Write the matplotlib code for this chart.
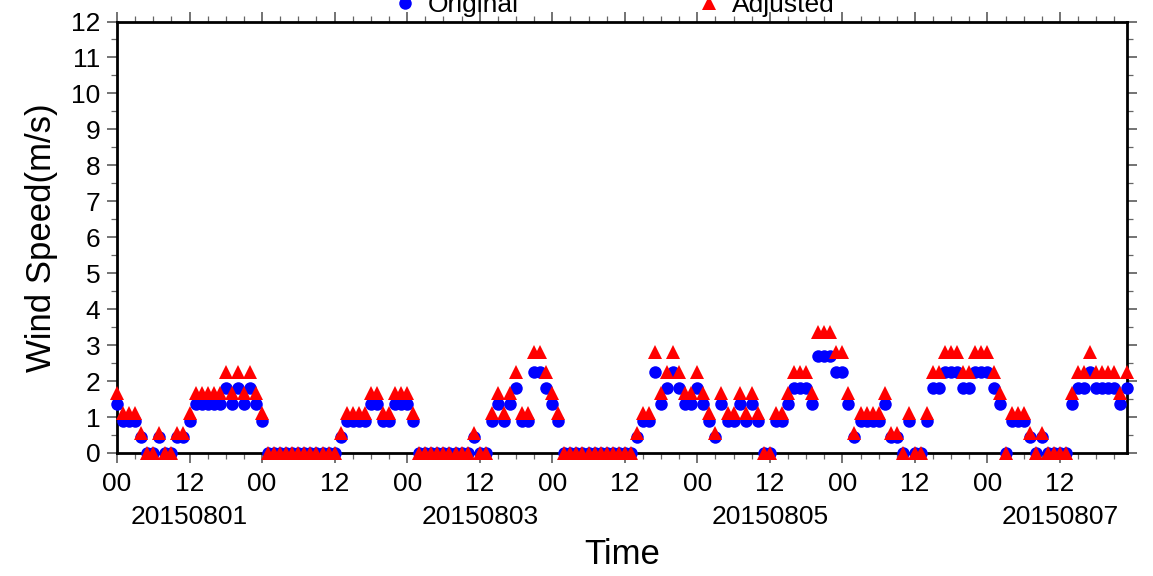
import numpy as np
import matplotlib.pyplot as plt
from matplotlib.lines import Line2D
from matplotlib.ticker import MultipleLocator, FixedLocator

plt.rcParams['font.family'] = ['Liberation Sans', 'DejaVu Sans']

# hourly wind speed (m/s), 2015-08-01 00h .. 2015-08-07 23h, one row per day
original = [
    1.35, 0.9, 0.9, 0.9, 0.45, 0, 0, 0.45, 0, 0, 0.45, 0.45,
    0.9, 1.35, 1.35, 1.35, 1.35, 1.35, 1.8, 1.35, 1.8, 1.35, 1.8, 1.35,
    0.9, 0, 0, 0, 0, 0, 0, 0, 0, 0, 0, 0,
    0, 0.45, 0.9, 0.9, 0.9, 0.9, 1.35, 1.35, 0.9, 0.9, 1.35, 1.35,
    1.35, 0.9, 0, 0, 0, 0, 0, 0, 0, 0, 0, 0.45,
    0, 0, 0.9, 1.35, 0.9, 1.35, 1.8, 0.9, 0.9, 2.25, 2.25, 1.8,
    1.35, 0.9, 0, 0, 0, 0, 0, 0, 0, 0, 0, 0,
    0, 0, 0.45, 0.9, 0.9, 2.25, 1.35, 1.8, 2.25, 1.8, 1.35, 1.35,
    1.8, 1.35, 0.9, 0.45, 1.35, 0.9, 0.9, 1.35, 0.9, 1.35, 0.9, 0,
    0, 0.9, 0.9, 1.35, 1.8, 1.8, 1.8, 1.35, 2.7, 2.7, 2.7, 2.25,
    2.25, 1.35, 0.45, 0.9, 0.9, 0.9, 0.9, 1.35, 0.45, 0.45, 0, 0.9,
    0, 0, 0.9, 1.8, 1.8, 2.25, 2.25, 2.25, 1.8, 1.8, 2.25, 2.25,
    2.25, 1.8, 1.35, 0, 0.9, 0.9, 0.9, 0.45, 0, 0.45, 0, 0,
    0, 0, 1.35, 1.8, 1.8, 2.25, 1.8, 1.8, 1.8, 1.8, 1.35, 1.8,
]

adjusted = [
    1.68, 1.12, 1.12, 1.12, 0.56, 0, 0, 0.56, 0, 0, 0.56, 0.56,
    1.12, 1.68, 1.68, 1.68, 1.68, 1.68, 2.24, 1.68, 2.24, 1.68, 2.24, 1.68,
    1.12, 0, 0, 0, 0, 0, 0, 0, 0, 0, 0, 0,
    0, 0.56, 1.12, 1.12, 1.12, 1.12, 1.68, 1.68, 1.12, 1.12, 1.68, 1.68,
    1.68, 1.12, 0, 0, 0, 0, 0, 0, 0, 0, 0, 0.56,
    0, 0, 1.12, 1.68, 1.12, 1.68, 2.24, 1.12, 1.12, 2.8, 2.8, 2.24,
    1.68, 1.12, 0, 0, 0, 0, 0, 0, 0, 0, 0, 0,
    0, 0, 0.56, 1.12, 1.12, 2.8, 1.68, 2.24, 2.8, 2.24, 1.68, 1.68,
    2.24, 1.68, 1.12, 0.56, 1.68, 1.12, 1.12, 1.68, 1.12, 1.68, 1.12, 0,
    0, 1.12, 1.12, 1.68, 2.24, 2.24, 2.24, 1.68, 3.36, 3.36, 3.36, 2.8,
    2.8, 1.68, 0.56, 1.12, 1.12, 1.12, 1.12, 1.68, 0.56, 0.56, 0, 1.12,
    0, 0, 1.12, 2.24, 2.24, 2.8, 2.8, 2.8, 2.24, 2.24, 2.8, 2.8,
    2.8, 2.24, 1.68, 0, 1.12, 1.12, 1.12, 0.56, 0, 0.56, 0, 0,
    0, 0, 1.68, 2.24, 2.24, 2.8, 2.24, 2.24, 2.24, 2.24, 1.68, 2.24,
]

days = ['20150801', '20150802', '20150803', '20150804',
        '20150805', '20150806', '20150807']

hours = np.arange(len(original))

fig = plt.figure(figsize=(11.53, 5.76), dpi=100)
ax = fig.add_axes([117 / 1153, 1 - 453 / 576, 1009.5 / 1153, 431.5 / 576])

ax.plot(hours, original, 'o', color='blue', ms=9.0, mew=0, clip_on=False, zorder=3)
ax.plot(hours, adjusted, '^', color='red', ms=9.8, mew=0, clip_on=False, zorder=4)

ax.set_xlim(0, hours[-1])
ax.set_ylim(0, 12)

# 00 / 12 labels, with the date under noon of every other day
major = list(range(0, len(hours), 12))
labels = []
for t in major:
    if t % 24 == 0:
        labels.append('00')
    elif (t // 24) % 2 == 0:
        labels.append('12\n' + days[t // 24])
    else:
        labels.append('12')
ax.xaxis.set_major_locator(FixedLocator(major))
ax.set_xticklabels(labels)
ax.xaxis.set_minor_locator(MultipleLocator(3))
ax.yaxis.set_major_locator(MultipleLocator(1))
ax.yaxis.set_minor_locator(MultipleLocator(0.5))

ax.tick_params(which='major', direction='out', length=7, width=1.1, color='0.3',
               top=True, right=True, labelsize=19, pad=5)
ax.tick_params(axis='x', which='major', pad=7)
ax.tick_params(which='minor', direction='out', length=4, width=0.9, color='0.4',
               top=True, right=True)
for lbl in ax.get_xticklabels():
    lbl.set_linespacing(1.45)
for s in ax.spines.values():
    s.set_linewidth(2.0)

ax.set_ylabel('Wind Speed(m/s)', fontsize=25)
ax.yaxis.set_label_coords(-0.058, 0.5)
ax.set_xlabel('Time', fontsize=25)
ax.xaxis.set_label_coords(0.5, -0.198)

handles = [Line2D([], [], ls='none', marker='o', color='blue', ms=9.0, mew=0),
           Line2D([], [], ls='none', marker='^', color='red', ms=9.8, mew=0)]
fig.legend(handles, ['Original', 'Adjusted'], loc='center left',
           bbox_to_anchor=(392 / 1153, 1 - 5 / 576), ncol=2, frameon=False,
           fontsize=19, handlelength=1.0, handletextpad=0.37,
           columnspacing=6.7, borderaxespad=0, borderpad=0)

fig.savefig('out.png', dpi=100)
